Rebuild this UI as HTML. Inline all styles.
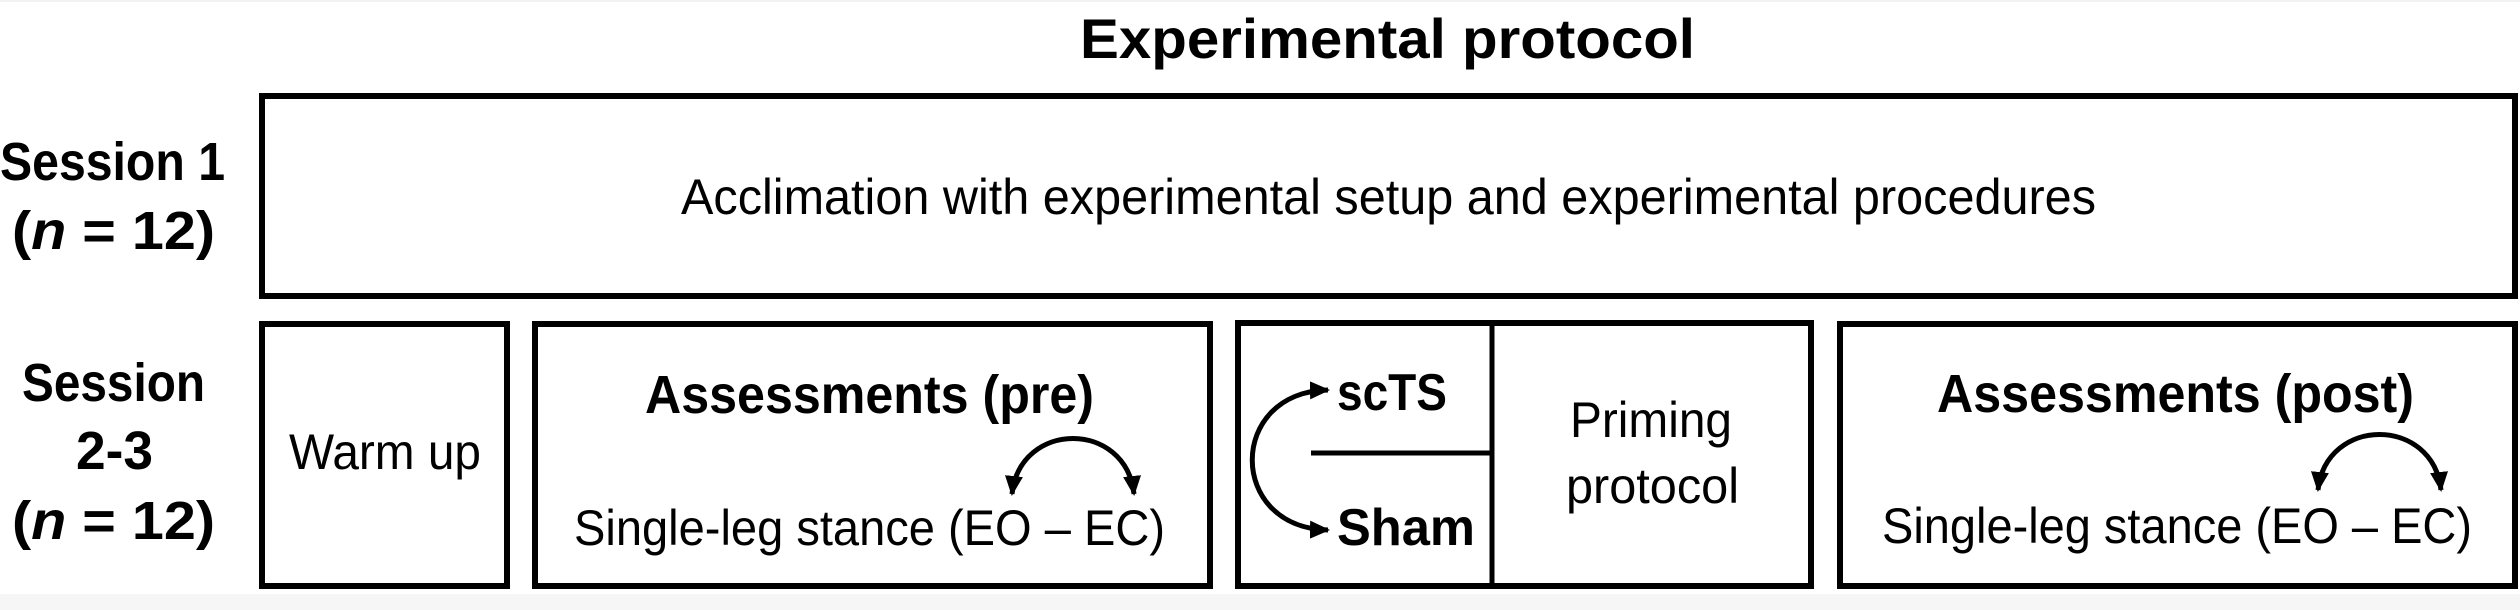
<!DOCTYPE html>
<html><head><meta charset="utf-8"><style>
html,body{margin:0;padding:0;background:#fff;}
svg{display:block;}
text{font-family:"Liberation Sans",sans-serif;fill:#000;}
.b{font-weight:bold;}
</style></head><body>
<svg width="2520" height="610" viewBox="0 0 2520 610" xmlns="http://www.w3.org/2000/svg">
<defs>
<marker id="ah" markerWidth="4" markerHeight="3.6" refX="3.6" refY="1.8" orient="auto-start-reverse" markerUnits="strokeWidth">
<path d="M0,0 L4,1.8 L0,3.6 Z" fill="#000"/>
</marker>
</defs>
<rect x="0" y="0" width="2520" height="610" fill="#fff"/>
<rect x="0" y="594" width="2520" height="16" fill="#f6f6f6"/>
<rect x="0" y="0" width="2520" height="2" fill="#f2f2f2"/>

<text class="b" x="1080" y="58" font-size="56" textLength="615" lengthAdjust="spacingAndGlyphs">Experimental protocol</text>

<text class="b" x="0" y="180" font-size="54" textLength="225" lengthAdjust="spacingAndGlyphs">Session 1</text>
<text class="b" x="12" y="249" font-size="54" textLength="203" lengthAdjust="spacingAndGlyphs">(<tspan font-style="italic">n</tspan> = 12)</text>
<text class="b" x="22" y="401" font-size="54" textLength="183" lengthAdjust="spacingAndGlyphs">Session</text>
<text class="b" x="76" y="469" font-size="54" textLength="77" lengthAdjust="spacingAndGlyphs">2-3</text>
<text class="b" x="12" y="539" font-size="54" textLength="203" lengthAdjust="spacingAndGlyphs">(<tspan font-style="italic">n</tspan> = 12)</text>

<rect x="262" y="96" width="2253" height="200" fill="none" stroke="#000" stroke-width="6"/>
<text x="681" y="214" font-size="50" textLength="1415" lengthAdjust="spacingAndGlyphs">Acclimation with experimental setup and experimental procedures</text>

<rect x="262" y="324" width="245" height="262" fill="none" stroke="#000" stroke-width="6"/>
<text x="289" y="469" font-size="50" textLength="192" lengthAdjust="spacingAndGlyphs">Warm up</text>

<rect x="535" y="324" width="675" height="262" fill="none" stroke="#000" stroke-width="6"/>
<text class="b" x="645" y="413" font-size="54" textLength="449" lengthAdjust="spacingAndGlyphs">Assessments (pre)</text>
<text x="574" y="545" font-size="50" textLength="591" lengthAdjust="spacingAndGlyphs">Single-leg stance (EO – EC)</text>
<path d="M1012,494 C1020,420 1126,420 1134,494" fill="none" stroke="#000" stroke-width="5" marker-start="url(#ah)" marker-end="url(#ah)"/>

<rect x="1238" y="323" width="573" height="263" fill="none" stroke="#000" stroke-width="6"/>
<line x1="1492" y1="323" x2="1492" y2="586" stroke="#000" stroke-width="5"/>
<line x1="1311" y1="453" x2="1492" y2="453" stroke="#000" stroke-width="5"/>
<text class="b" x="1337" y="410" font-size="52" textLength="110" lengthAdjust="spacingAndGlyphs">scTS</text>
<text class="b" x="1337" y="545" font-size="52" textLength="138" lengthAdjust="spacingAndGlyphs">Sham</text>
<path d="M1328,390 C1227,392 1227,528 1328,530" fill="none" stroke="#000" stroke-width="5" marker-start="url(#ah)" marker-end="url(#ah)"/>
<text x="1570" y="437" font-size="50" textLength="162" lengthAdjust="spacingAndGlyphs">Priming</text>
<text x="1566" y="503" font-size="50" textLength="173" lengthAdjust="spacingAndGlyphs">protocol</text>

<rect x="1840" y="324" width="675" height="262" fill="none" stroke="#000" stroke-width="6"/>
<text class="b" x="1937" y="412" font-size="54" textLength="477" lengthAdjust="spacingAndGlyphs">Assessments (post)</text>
<text x="1882" y="543" font-size="50" textLength="590" lengthAdjust="spacingAndGlyphs">Single-leg stance (EO – EC)</text>
<path d="M2318,490 C2326,416 2433,416 2441,490" fill="none" stroke="#000" stroke-width="5" marker-start="url(#ah)" marker-end="url(#ah)"/>
</svg>
</body></html>
